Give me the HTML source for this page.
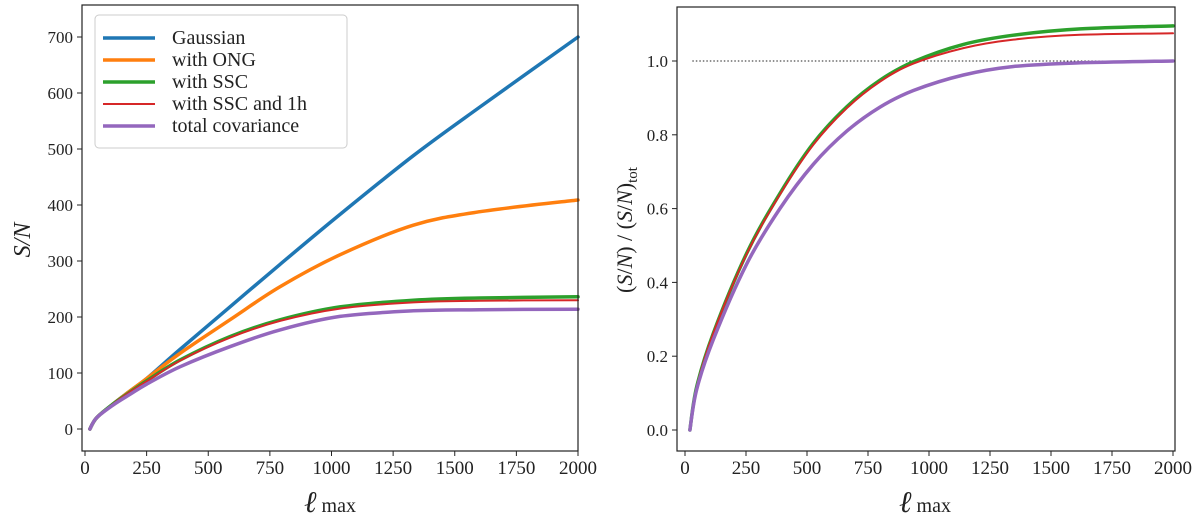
<!DOCTYPE html>
<html><head><meta charset="utf-8"><style>
body{margin:0;background:#fff;}
svg text{font-family:"Liberation Serif",serif;fill:#222;}
</style></head><body>
<svg id="c" width="1200" height="523" viewBox="0 0 1200 523"></svg>
<script>
const ellL=[20,47,115,183,250,385,588,791,1034,1332,1602,2000];
const snGauss=[0,20,45,68,90,142,218,294,383,488,575,700];
const snONG=[0,20,45,68,90,135,195,254,311,364,388,409];
const snSSC=[0,20,45,66,86,123,165,195,218,230,234,236];
const snSSC1h=[0,20,45,66,85,122,163,193,215,226,229,230];
const snTot=[0,20,43,62,80,111,147,177,201,211,213,214];
const ellR=[20,48,116,253,389,526,663,799,936,1141,1346,1620,2000];
const rSSC=[0,0.117,0.262,0.479,0.641,0.777,0.876,0.948,0.998,1.045,1.07,1.087,1.095];
const rSSC1h=[0,0.117,0.262,0.477,0.638,0.773,0.872,0.944,0.993,1.035,1.058,1.071,1.075];
const rTot=[0,0.11,0.245,0.45,0.60,0.72,0.81,0.875,0.92,0.962,0.985,0.995,1.0];
const xTicks=[0,250,500,750,1000,1250,1500,1750,2000];
const yTicksL=[0,100,200,300,400,500,600,700];
const yTicksR=[0,0.2,0.4,0.6,0.8,1.0];
const legendLabels=["Gaussian","with ONG","with SSC","with SSC and 1h","total covariance"];
const C={blue:"#1f77b4",orange:"#ff7f0e",green:"#2ca02c",red:"#d62728",purple:"#9467bd"};
const svg=document.getElementById('c');
const NS="http://www.w3.org/2000/svg";
function mk(t,a,p){const e=document.createElementNS(NS,t);for(const k in a)e.setAttribute(k,a[k]);(p||svg).appendChild(e);return e;}
const L={x:v=>85+v*(578-85)/2000,y:v=>429-v*(429-37)/700,box:[82,5,578,451]};
const R={x:v=>685+v*(1173-685)/2000,y:v=>430-v*(430-61),box:[677,7,1175,451]};
function axes(P,yt,fmt,name){
  const g=mk('g',{});
  const [x0,y0,x1,y1]=P.box;
  xTicks.forEach(v=>{const x=P.x(v);mk('line',{x1:x,x2:x,y1:y1,y2:y1+5,stroke:'#222'},g);
    const t=mk('text',{x:x,y:y1+23,'text-anchor':'middle','font-size':19},g);t.textContent=v;
    });
  yt.forEach(v=>{const y=P.y(v);mk('line',{x1:x0-5,x2:x0,y1:y,y2:y,stroke:'#222'},g);
    const t=mk('text',{x:x0-9,y:y+6,'text-anchor':'end','font-size':17},g);t.textContent=fmt(v);
    });
  return g;
}
function frame(P,name){const [x0,y0,x1,y1]=P.box;const r=mk('rect',{x:x0,y:y0,width:x1-x0,height:y1-y0,fill:'none',stroke:'#222','stroke-width':1.2});
  }
function line(P,xs,ys,col,w,name){
  const pts=xs.map((e,i)=>[P.x(e),P.y(ys[i])]);
  let d='M'+pts[0][0].toFixed(1)+','+pts[0][1].toFixed(1);
  for(let i=0;i<pts.length-1;i++){
    const p0=pts[Math.max(i-1,0)],p1=pts[i],p2=pts[i+1],p3=pts[Math.min(i+2,pts.length-1)];
    const c1=[p1[0]+(p2[0]-p0[0])/6,p1[1]+(p2[1]-p0[1])/6];
    const c2=[p2[0]-(p3[0]-p1[0])/6,p2[1]-(p3[1]-p1[1])/6];
    d+='C'+c1[0].toFixed(1)+','+c1[1].toFixed(1)+' '+c2[0].toFixed(1)+','+c2[1].toFixed(1)+' '+p2[0].toFixed(1)+','+p2[1].toFixed(1);
  }
  const p=mk('path',{d:d,fill:'none',stroke:col,'stroke-width':w,'stroke-linejoin':'round','stroke-linecap':'round'});
  }
axes(L,yTicksL,v=>v,'left-axes');
line(L,ellL,snGauss,C.blue,3.5,'line-gaussian');
line(L,ellL,snONG,C.orange,3.5,'line-ong');
line(L,ellL,snSSC,C.green,3.5,'line-ssc');
line(L,ellL,snSSC1h,C.red,2,'line-ssc-1h');
line(L,ellL,snTot,C.purple,3.5,'line-total');
frame(L,'left-frame');
axes(R,yTicksR,v=>v.toFixed(1),'right-axes');
const ref=mk('line',{x1:R.x(30),x2:R.x(2000),y1:R.y(1),y2:R.y(1),stroke:'#222','stroke-width':1,'stroke-dasharray':'1.5,2'});

line(R,ellR,rSSC,C.green,3.5,'ratio-ssc');
line(R,ellR,rSSC1h,C.red,2,'ratio-ssc-1h');
line(R,ellR,rTot,C.purple,3.5,'ratio-total');
frame(R,'right-frame');
const lg=mk('g',{});
mk('rect',{x:95,y:15,width:252,height:133,rx:4,fill:'#fff',stroke:'#ccc'},lg);
const lc=[C.blue,C.orange,C.green,C.red,C.purple],lw=[3.5,3.5,3.5,2,3.5];
legendLabels.forEach((s,i)=>{const y=38+i*22;
  mk('line',{x1:103,x2:155,y1:y,y2:y,stroke:lc[i],'stroke-width':lw[i]},lg);
  const t=mk('text',{x:172,y:y+6,'font-size':20},lg);t.textContent=s;
  });
</script>
<svg width="1200" height="523" style="position:absolute;left:0;top:0">
<text transform="translate(30,240) rotate(-90)" text-anchor="middle" font-size="24" font-style="italic" font-family="Liberation Serif,serif">S/N</text>
<text x="330" y="512" text-anchor="middle" font-family="Liberation Serif,serif"><tspan font-size="30" font-style="italic">ℓ</tspan><tspan font-size="20"> max</tspan></text>
<text transform="translate(632,230) rotate(-90)" text-anchor="middle" font-size="22" font-family="Liberation Serif,serif">(<tspan font-style="italic">S</tspan>/<tspan font-style="italic">N</tspan>) / (<tspan font-style="italic">S</tspan>/<tspan font-style="italic">N</tspan>)<tspan font-size="15" dy="5">tot</tspan></text>
<text x="925" y="512" text-anchor="middle" font-family="Liberation Serif,serif"><tspan font-size="30" font-style="italic">ℓ</tspan><tspan font-size="20"> max</tspan></text>
</svg>
</body></html>
